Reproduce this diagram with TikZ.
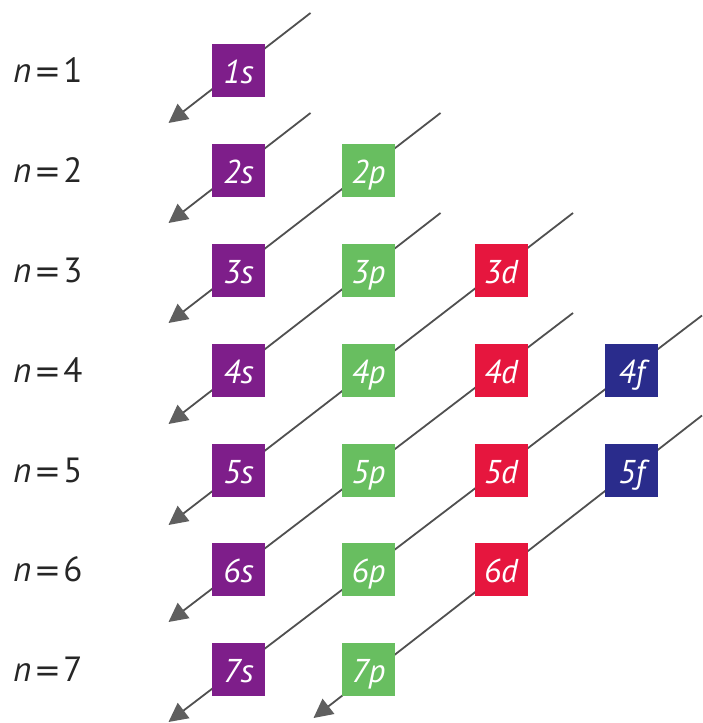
\documentclass[tikz,border=0pt]{standalone}
\usepackage{fontspec}
\setmainfont{PT Sans}
\newfontfamily\eqfont{DejaVu Sans}
\usetikzlibrary{arrows.meta,calc,backgrounds}
\definecolor{cs}{RGB}{126,30,138}
\definecolor{cp}{RGB}{104,190,96}
\definecolor{cd}{RGB}{230,22,62}
\definecolor{cf}{RGB}{42,44,140}
\definecolor{lineg}{RGB}{80,80,80}
\definecolor{headg}{RGB}{95,95,95}
\tikzset{
  orb/.style={minimum width=53pt,minimum height=53pt,inner sep=0pt,text=white,
    text height=26pt,text depth=0pt,font=\fontsize{33}{33}\selectfont\itshape},
  sorb/.style={orb,fill=cs},
  porb/.style={orb,fill=cp},
  dorb/.style={orb,fill=cd},
  forb/.style={orb,fill=cf},
  nlab/.style={anchor=base west,inner sep=0pt,text=black!85,font=\fontsize{35}{35}\selectfont},
  arr/.style={draw=lineg,line width=1.8pt,-{Triangle[length=19pt,width=19pt,fill=headg,color=headg]}}
}
\begin{document}
\begin{tikzpicture}[x=1pt,y=-1pt]
\useasboundingbox (0,0) rectangle (702,723);
% row labels
\foreach \n/\y in {1/70,2/170,3/270,4/370,5/470,6/569,7/669}{
  \node[nlab] (n\n) at (13,\y+12.5) {\textit{n}\hspace{3pt}{\eqfont\fontsize{32}{32}\selectfont=}\hspace{2pt}\n};
}
% orbitals
\node[sorb] (s1) at (238.5,70) {1s};
\node[sorb] (s2) at (238.5,170) {2s};
\node[sorb] (s3) at (238.5,270) {3s};
\node[sorb] (s4) at (238.5,370) {4s};
\node[sorb] (s5) at (238.5,470) {5s};
\node[sorb] (s6) at (238.5,569) {6s};
\node[sorb] (s7) at (238.5,669) {7s};
\node[porb] (p2) at (368.5,170) {2p};
\node[porb] (p3) at (368.5,270) {3p};
\node[porb] (p4) at (368.5,370) {4p};
\node[porb] (p5) at (368.5,470) {5p};
\node[porb] (p6) at (368.5,569) {6p};
\node[porb] (p7) at (368.5,669) {7p};
\node[dorb] (d3) at (501,270) {3d};
\node[dorb] (d4) at (501,370) {4d};
\node[dorb] (d5) at (501,470) {5d};
\node[dorb] (d6) at (501,569) {6d};
\node[forb] (f4) at (631.5,370) {4f};
\node[forb] (f5) at (631.5,470) {5f};
% connector end points
\coordinate (a1) at ($(s1)+(72,-57)$);
\coordinate (a2) at ($(s2)+(72,-57)$);
\coordinate (a3) at ($(p2)+(72,-57)$);
\coordinate (a4) at ($(p3)+(72,-57)$);
\coordinate (a5) at ($(d3)+(72,-57)$);
\coordinate (a6) at ($(d4)+(72,-57)$);
\coordinate (a7) at ($(f4)+(70.5,-54.5)$);
\coordinate (a8) at ($(f5)+(70.5,-54.5)$);
\coordinate (b1) at ($(s1)+(-70,53)$);
\coordinate (b2) at ($(s2)+(-70,53)$);
\coordinate (b3) at ($(s3)+(-70,53)$);
\coordinate (b4) at ($(s4)+(-70,54)$);
\coordinate (b5) at ($(s5)+(-70,55)$);
\coordinate (b6) at ($(s6)+(-70,53)$);
\coordinate (b7) at ($(s7)+(-70,53)$);
\coordinate (b8) at ($(p7)+(-55,49)$);
\begin{scope}[on background layer]
\foreach \i in {1,...,8}{
  \draw[arr] (a\i) -- (b\i);
}
\end{scope}
\end{tikzpicture}
\end{document}
